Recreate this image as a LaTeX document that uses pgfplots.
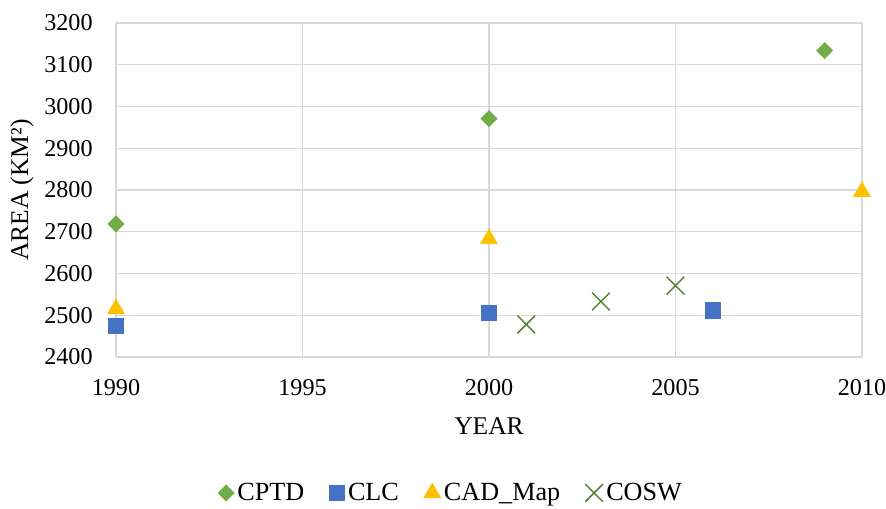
\documentclass[border=0pt]{standalone}
\usepackage{fontspec}
\setmainfont{Liberation Serif}
\usepackage{pgfplots}
\pgfplotsset{compat=1.18}
\definecolor{cptd}{HTML}{70AD47}
\definecolor{clc}{HTML}{4472C4}
\definecolor{cad}{HTML}{FFC000}
\definecolor{cosw}{HTML}{548235}
\definecolor{gridc}{HTML}{D9D9D9}
\newcommand{\chartfont}{\fontsize{14.5}{17}\selectfont}
\newcommand{\labelfont}{\fontsize{15.3}{18}\selectfont}
\newcommand{\legfont}{\fontsize{15.7}{18}\selectfont}
\begin{document}
\begin{tikzpicture}
\begin{axis}[
  at={(0,0)}, anchor=south west,
  scale only axis, width=447.6pt, height=200.4pt,
  xmin=1990, xmax=2010, ymin=2400, ymax=3200,
  xtick={1990,1995,2000,2005,2010},
  ytick={2400,2500,2600,2700,2800,2900,3000,3100,3200},
  grid=major, grid style={draw=gridc, line width=0.8pt},
  axis line style={draw=none},
  tick style={draw=none},
  clip=false,
  scaled ticks=false,
  /pgf/number format/assume math mode=true,
  /pgf/number format/1000 sep={},
  tick label style={font=\chartfont},
  xticklabel style={yshift=-10pt},
  yticklabel style={xshift=-10.5pt},
  xlabel={YEAR},
  ylabel={AREA (KM²)},
  label style={font=\labelfont},
  xlabel style={at={(axis description cs:0.5,-0.2066)}, anchor=center},
  ylabel style={at={(axis description cs:-0.126,0.5)}, anchor=center, rotate=0},
  legend columns=4,
  legend style={draw=none, fill=none, font=\legfont,
    at={(axis description cs:0.450,-0.407)}, anchor=center,
    /tikz/every even column/.append style={column sep=13pt},
    /tikz/every odd column/.append style={column sep=0pt}},
  legend image code/.code={\draw[#1, mark repeat=2, mark phase=2] plot coordinates {(0cm,0cm)(0.18cm,0cm)(0.36cm,0cm)};},
]
\addplot[only marks, mark=diamond*, mark size=4.8pt, color=cptd, mark options={fill=cptd, draw=cptd, xscale=1.33}]
  coordinates {(1990,2719) (2000,2971) (2009,3134)};
\addlegendentry{CPTD}
\addplot[only marks, mark=square*, mark size=4.6pt, color=clc, mark options={fill=clc, draw=clc}]
  coordinates {(1990,2475) (2000,2506) (2006,2512)};
\addlegendentry{CLC}
\addplot[only marks, mark=triangle*, mark size=5.8pt, color=cad, mark options={fill=cad, draw=cad}]
  coordinates {(1990,2515) (2000,2683) (2010,2796)};
\addlegendentry{CAD\_Map}
\addplot[only marks, mark=x, mark size=7.5pt, color=cosw, mark options={line width=0.9pt}]
  coordinates {(2001,2478) (2003,2533) (2005,2571)};
\addlegendentry{COSW}
\end{axis}
\pgfresetboundingbox
\path (-69.6pt,-90.6pt) rectangle (462pt,214.2pt);
\end{tikzpicture}
\end{document}
